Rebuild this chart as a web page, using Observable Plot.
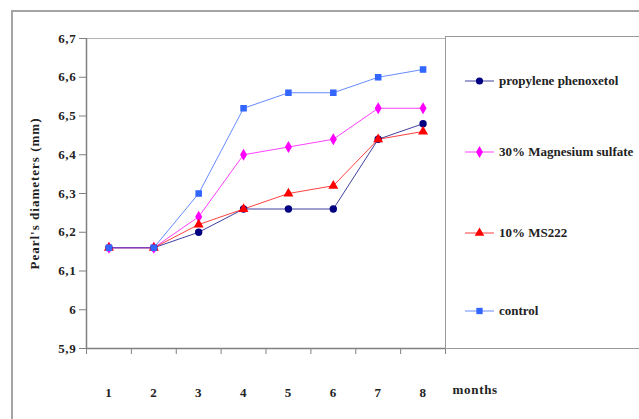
<!DOCTYPE html>
<html>
<head>
<meta charset="utf-8">
<script src="https://cdn.jsdelivr.net/npm/d3@7"></script>
<script src="https://cdn.jsdelivr.net/npm/@observablehq/plot@0.6"></script>
<style>
  html, body { margin: 0; padding: 0; background: #fff; overflow: hidden; }
  #wrap { position: relative; width: 639px; height: 419px; overflow: hidden; }
  #outer { position: absolute; left: 11px; top: 10px; width: 700px; height: 500px; border: 2px solid #a4a4a4; box-sizing: border-box; }
  #chart { position: absolute; left: 0; top: 0; }
  #chart svg text { letter-spacing: 0.7px; }
  #chart svg .ylab text { letter-spacing: 1px; }
  #legend { position: absolute; left: 445px; top: 36px; width: 300px; height: 313px; border: 1px solid #9a9a9a; box-sizing: border-box; background: #fff;
            font-family: "Liberation Serif", "Times New Roman", serif; font-weight: bold; font-size: 13px; color: #222; }
  .item { position: absolute; left: 0; height: 14px; display: flex; align-items: center; white-space: nowrap; }
  .item svg { margin-left: 19px; margin-right: 5px; }
</style>
</head>
<body>
<div id="wrap">
  <div id="outer"></div>
  <div id="chart"></div>
  <div id="legend"></div>
</div>
<script>
// Data
const months = [1, 2, 3, 4, 5, 6, 7, 8];
const seriesNames = ["propylene phenoxetol", "30% Magnesium sulfate", "10% MS222", "control"];
const propylene = [6.16, 6.16, 6.20, 6.26, 6.26, 6.26, 6.44, 6.48];
const magnesium = [6.16, 6.16, 6.24, 6.40, 6.42, 6.44, 6.52, 6.52];
const ms222 = [6.16, 6.16, 6.22, 6.26, 6.30, 6.32, 6.44, 6.46];
const control = [6.16, 6.16, 6.30, 6.52, 6.56, 6.56, 6.60, 6.62];
const yTicks = [5.9, 6.0, 6.1, 6.2, 6.3, 6.4, 6.5, 6.6, 6.7];
const xLabel = "months";
const yLabel = "Pearl's diameters (mm)";

const colors = ["#000080", "#ff00ff", "#ff0000", "#3366ff"];
const symbols = ["circle", "diamond", "triangle", "square"];
const valuesList = [propylene, magnesium, ms222, control];

const rows = seriesNames.flatMap((name, s) =>
  months.map((m, i) => ({ month: m, value: valuesList[s][i], name }))
);
const boundaries = months.map(m => m - 0.5).concat([months[months.length - 1] + 0.5]);

const fmt = d => String(+d.toFixed(1)).replace(".", ",");
const serif = "\"Liberation Serif\", \"Times New Roman\", serif";

const chart = Plot.plot({
  width: 639,
  height: 419,
  marginLeft: 86,
  marginRight: 194,
  marginTop: 38,
  marginBottom: 71,
  style: { fontFamily: serif, fontWeight: "bold", fontSize: "13px", background: "transparent", color: "#222" },
  x: { domain: [0.5, 8.5] },
  y: { domain: [5.9, 6.7] },
  color: { domain: seriesNames, range: colors },
  symbol: { domain: seriesNames, range: symbols },
  marks: [
    Plot.frame({ stroke: "#b4b4b4" }),
    Plot.axisY({ ticks: yTicks, tickFormat: fmt, tickSize: 7, tickPadding: 3, stroke: "#808080", fill: "#222",
                 fontFamily: serif, fontWeight: "bold", fontSize: 13, label: null }),
    Plot.text([yLabel], { frameAnchor: "left", textAnchor: "middle", dx: -52, rotate: -90, fill: "#222", className: "ylab",
                          fontFamily: serif, fontWeight: "bold", fontSize: 13 }),
    Plot.axisX({ ticks: months, tickSize: 0, tickPadding: 39, fill: "#222", fontFamily: serif, fontWeight: "bold", fontSize: 13, label: null }),
    Plot.axisX({ ticks: boundaries, tickSize: 6, tickFormat: () => "", stroke: "#808080", label: null }),
    Plot.ruleX([0.5], { stroke: "#808080", strokeWidth: 1.5 }),
    Plot.ruleY([5.9], { stroke: "#808080", strokeWidth: 1.5 }),
    Plot.line(rows, { x: "month", y: "value", z: "name", stroke: "name", strokeWidth: 1, strokeOpacity: 0.75 }),
    Plot.dot(rows, { x: "month", y: "value", fill: "name", symbol: "name", r: 3.7, stroke: "none" }),
    Plot.text([xLabel], { frameAnchor: "bottom-right", dx: 7, dy: 45, textAnchor: "start", fill: "#222",
                          fontFamily: serif, fontWeight: "bold", fontSize: 13 })
  ]
});
document.getElementById("chart").appendChild(chart);

// Legend (right of plot)
const legend = document.getElementById("legend");
const itemTops = [37, 108, 189, 267];
seriesNames.forEach((name, i) => {
  const item = document.createElement("div");
  item.className = "item";
  item.style.top = itemTops[i] + "px";
  const svg = d3.create("svg").attr("width", 29).attr("height", 14);
  svg.append("line").attr("x1", 0).attr("x2", 29).attr("y1", 7).attr("y2", 7).attr("stroke", colors[i]).attr("stroke-width", 1).attr("stroke-opacity", 0.75);
  svg.append("path").attr("transform", "translate(14.5,7)")
    .attr("d", d3.symbol(d3["symbol" + symbols[i][0].toUpperCase() + symbols[i].slice(1)], 40)())
    .attr("fill", colors[i]);
  item.appendChild(svg.node());
  const span = document.createElement("span");
  span.textContent = name;
  item.appendChild(span);
  legend.appendChild(item);
});
</script>
</body>
</html>
